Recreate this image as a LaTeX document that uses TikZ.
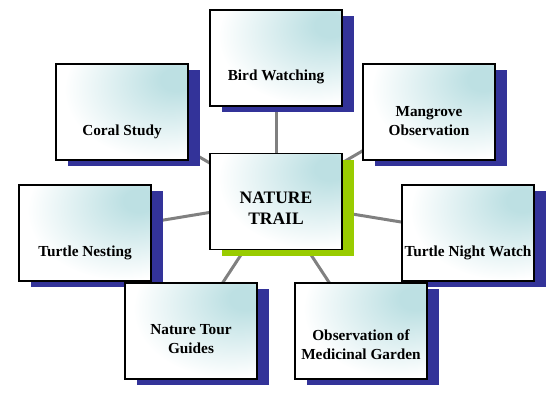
\documentclass[tikz,border=0pt]{standalone}
\usepackage{fontspec}
\setmainfont{Liberation Serif}
\usepackage{xcolor}
\usepackage{tikz}
\usetikzlibrary{shadows, backgrounds}

\definecolor{trailblue}{HTML}{333399}
\definecolor{trailgreen}{HTML}{99CC00}
\definecolor{trailglow}{HTML}{BDE0E3}
\definecolor{trailgray}{HTML}{808080}
\pgfdeclareradialshading{glowfill}{\pgfpoint{22bp}{18bp}}{color(0bp)=(trailglow); color(6bp)=(trailglow); color(36bp)=(white); color(100bp)=(white)}

\begin{document}
\begin{tikzpicture}[
    x=1pt, y=-1pt,
    boxbase/.style={rectangle, draw=black, line width=1.2pt, minimum width=132pt, minimum height=96pt, shade, shading=glowfill},
    box/.style={boxbase, drop shadow={fill=trailblue, opacity=1, shadow xshift=12pt, shadow yshift=-6pt}},
    hub/.style={boxbase, drop shadow={fill=trailgreen, opacity=1, shadow xshift=12pt, shadow yshift=-7pt}},
    boxtext/.style={anchor=base, align=center, inner sep=0pt, font=\fontsize{15.3}{19}\selectfont\bfseries},
    hubtext/.style={boxtext, font=\fontsize{17.5}{21}\selectfont\bfseries},
    link/.style={draw=trailgray, line width=3pt}
]
    \useasboundingbox (0,0) rectangle (552,403);
    \node [box] (bird) at (276,58) {};
    \node [boxtext] (bird-t) at ([yshift=-23pt]bird.center) {Bird Watching};
    \node [box] (coral) at (122,112) {};
    \node [boxtext] (coral-t) at ([yshift=-24pt]coral.center) {Coral Study};
    \node [box] (mangrove) at (429,112) {};
    \node [boxtext] (mangrove-t) at ([yshift=-24pt]mangrove.center) {Mangrove\\Observation};
    \node [box] (nesting) at (85,233) {};
    \node [boxtext] (nesting-t) at ([yshift=-24pt]nesting.center) {Turtle Nesting};
    \node [box] (night) at (468,233) {};
    \node [boxtext] (night-t) at ([yshift=-24pt]night.center) {Turtle Night Watch};
    \node [hub] (trail) at (276,201.5) {};
    \node [hubtext] (trail-t) at ([yshift=-23.5pt]trail.center) {NATURE\\TRAIL};
    \node [box] (guides) at (191,331) {};
    \node [boxtext] (guides-t) at ([yshift=-23pt]guides.center) {Nature Tour\\Guides};
    \node [box] (garden) at (361,331) {};
    \node [boxtext] (garden-t) at ([yshift=-29pt]garden.center) {Observation of\\Medicinal Garden};
    \begin{scope}[on background layer]
        \draw [link] (trail.center) -- (bird.center);
        \draw [link] (trail.center) -- (coral.center);
        \draw [link] (trail.center) -- (mangrove.center);
        \draw [link] (trail.center) -- (nesting.center);
        \draw [link] (trail.center) -- (night.center);
        \draw [link] (trail.center) -- (guides.center);
        \draw [link] (trail.center) -- (garden.center);
    \end{scope}
\end{tikzpicture}
\end{document}
